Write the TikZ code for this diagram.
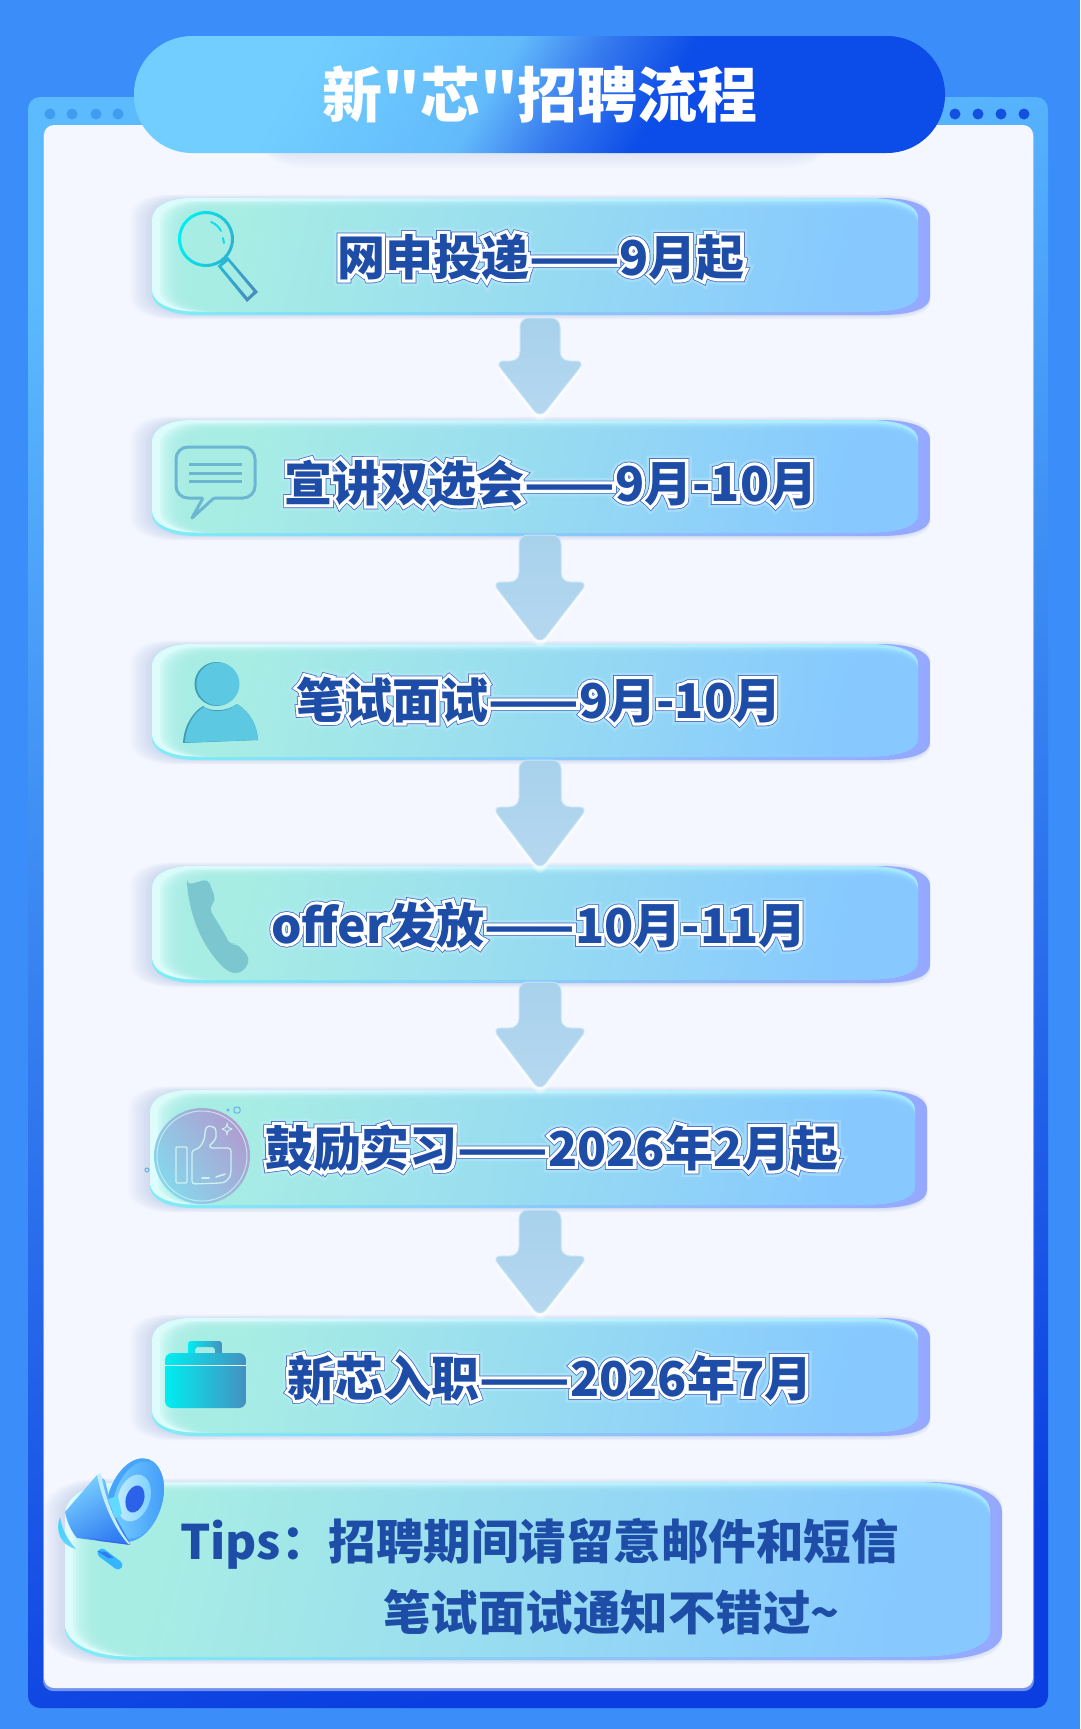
\documentclass[tikz,border=0pt]{standalone}
\usepackage{fontspec}
\usetikzlibrary{calc}
\newfontfamily\fblack{Noto Sans CJK SC Black}
\newfontfamily\fwhite[FakeBold=13]{Noto Sans CJK SC Black}
\newfontfamily\fedge[FakeBold=16]{Noto Sans CJK SC Black}
\newfontfamily\fglow[FakeBold=27]{Noto Sans CJK SC Black}
\newfontfamily\ftipb{Noto Sans CJK SC Black}
\definecolor{bgblue}{HTML}{3B8DFA}
\definecolor{panelc}{HTML}{F4F7FF}
\definecolor{ink}{HTML}{1E4DA8}
\definecolor{edgec}{HTML}{3F66BC}
\definecolor{glowc}{HTML}{C4ECFF}
\definecolor{shadowc}{HTML}{9DB4E0}
\definecolor{cyanA}{HTML}{00EEF0}
\definecolor{blueB}{HTML}{4590C0}
\definecolor{edgeL}{HTML}{7FEDF5}\definecolor{edgeM}{HTML}{82CCFF}\definecolor{edgeR}{HTML}{95A8FF}
\definecolor{lightL}{HTML}{DDFCFB}\definecolor{lightM}{HTML}{B4F0F4}\definecolor{lightR}{HTML}{A4E8FF}
\definecolor{faceL}{HTML}{A6EDE4}\definecolor{faceR}{HTML}{86C8FF}
\definecolor{arrowA}{HTML}{A8D1EC}\definecolor{arrowB}{HTML}{B6D8F0}\definecolor{arrowE}{HTML}{C6E3F5}
\definecolor{thumbc}{HTML}{CDF2F2}
\definecolor{frameA}{HTML}{5CBBFF}\definecolor{frameB}{HTML}{4CA6FB}\definecolor{frameC}{HTML}{0A3EE0}
\definecolor{bubc}{HTML}{6CB6D2}
\definecolor{persA}{HTML}{5CC8E2}\definecolor{persD}{HTML}{3E9DB8}
\definecolor{phonec}{HTML}{7CC6CF}
\definecolor{thumbA}{HTML}{86D8EC}\definecolor{thumbM}{HTML}{8CC8E4}\definecolor{thumbB}{HTML}{B09CD0}
\definecolor{megaB}{HTML}{46A4FB}\definecolor{megaE}{HTML}{7AD0FF}\definecolor{megaF}{HTML}{3F9AF8}\definecolor{megaW}{HTML}{C4ECFF}\definecolor{megaC}{HTML}{2C62EA}\definecolor{megaG}{HTML}{2F7CF2}\definecolor{megaH}{HTML}{3F5CEA}\definecolor{megaJ}{HTML}{3CD4FF}\definecolor{megaK}{HTML}{36B6FF}
\definecolor{dotL}{HTML}{3F9CEF}\definecolor{dotR}{HTML}{1450E0}
\definecolor{pillA}{HTML}{72CEFF}\definecolor{pillB}{HTML}{62BAFB}\definecolor{pillM}{HTML}{3578EE}\definecolor{pillC}{HTML}{0C4CE8}
\pgfdeclarehorizontalshading{pillshade}{100bp}{color(0bp)=(pillA); color(30bp)=(pillA); color(46bp)=(pillB); color(53bp)=(pillM); color(60bp)=(pillC); color(100bp)=(pillC)}
\newcommand\dashes{\scalebox{1.1}[1]{——}}
\newcommand\otext[1]{\mbox{%
  \begin{pgfscope}\pgfsetmiterlimit{2.5}%
  \begin{pgfscope}\pgfsetstrokeopacity{.35}\pgfsetfillopacity{.35}\rlap{\fglow\color{glowc}#1}\end{pgfscope}%
  \rlap{\fedge\color{edgec}#1}%
  \rlap{\fwhite\color{white}#1}%
  {\fblack\color{ink}#1}\end{pgfscope}}}
\newcommand\rowp[5]{(#1,#2+22*#5) .. controls (#1,#2+8*#5) and (#1+18*#5,#2) .. (#1+38*#5,#2) -- (#3-50*#5,#2) .. controls (#3-25*#5,#2) and (#3,#2+5*#5) .. (#3,#2+20*#5) -- (#3,#4-18*#5) .. controls (#3,#4-6*#5) and (#3-20*#5,#4) .. (#3-50*#5,#4) -- (#1+44*#5,#4) .. controls (#1+20*#5,#4) and (#1,#4-8*#5) .. (#1,#4-22*#5) -- cycle}
\newcommand\glassrow[5]{%
  \foreach \k in {1,...,9}{
    \pgfmathsetmacro\aa{#1-2.6*\k+2}\pgfmathsetmacro\bb{#2-0.6*\k+2}\pgfmathsetmacro\cc{#3+0.3*\k-2}\pgfmathsetmacro\dd{#4+0.6*\k-1}
    \fill[shadowc,fill opacity=.05] \rowp{\aa}{\bb}{\cc}{\dd}{#5};
  }
  \shade[left color=edgeL,middle color=edgeM,right color=edgeR] \rowp{#1}{#2}{#3}{#4}{#5};
  \pgfmathsetmacro\cc{#3-12}\pgfmathsetmacro\dd{#4-3.5}
  \shade[left color=lightL,middle color=lightM,right color=lightR] \rowp{#1}{#2}{\cc}{\dd}{#5};
  \foreach \k in {0,...,9}{
    \pgfmathsetmacro\aa{#1+8+2.8*\k}\pgfmathsetmacro\bb{#2+3+0.9*\k}
    \shade[left color=faceL,right color=faceR,shading angle=75,opacity=.24] \rowp{\aa}{\bb}{\cc}{\dd}{#5};
  }
}
\newcommand\blockarrow[6]{% cx, top, headtop, tip, half head, half shaft
  \foreach \k/\o in {7/.25,5/.35,3/.5}{
    \pgfmathsetmacro\hh{#3+\k}\pgfmathsetmacro\tt{#4+\k+4}
    \fill[white,opacity=\o,rounded corners=9] (#1-#5,\hh) -- (#1+#5,\hh) -- (#1,\tt) -- cycle;
  }
  \shade[top color=arrowA,bottom color=arrowB,draw=arrowE,line width=1pt,rounded corners=9]
    (#1-#5,#3) -- (#1-#6,#3) -- (#1-#6,#2) -- (#1+#6,#2) -- (#1+#6,#3) -- (#1+#5,#3) -- (#1,#4+4) -- cycle;
}
\begin{document}
\begin{tikzpicture}[x=1pt,y=-1pt,
  rowlabel/.style={anchor=base,inner sep=0pt,font=\fontsize{48}{52}\selectfont},
  tiplabel/.style={anchor=base west,inner sep=0pt,text=ink},
  thumbline/.style={draw=thumbc,line width=1.3pt,line join=round}]
\useasboundingbox (0,0) rectangle (1080,1729);
\fill[bgblue] (0,0) rectangle (1080,1729);
% frame
\shade[top color=frameA,middle color=frameB,bottom color=frameC,shading angle=16,rounded corners=12] (28,97) rectangle (1048,1708);
\foreach \x in {50,72,96,118} \fill[dotL] (\x,114) circle[radius=5.5];
\foreach \x in {955,978,1001,1024} \fill[dotR] (\x,114) circle[radius=5.5];
% panel
\fill[white!70!frameC,opacity=.6,rounded corners=10] (43,126) rectangle (1034,1691);
\fill[panelc,rounded corners=10] (44,125) rectangle (1033,1688);
% title pill
\foreach \k in {1,...,6}{
  \fill[shadowc,opacity=.035,rounded corners=58] (240+\k,60) rectangle (850-\k,153+2.5*\k);
}
\shade[shading=pillshade,shading angle=-30,rounded corners=58] (134,36) rectangle (945,153);
\node[anchor=base,inner sep=0pt,text=white,font=\fblack\fontsize{60}{64}\selectfont] (title) at (540,117) {新"芯"招聘流程};
% rows
\glassrow{152}{198}{930}{315}{1}
\glassrow{152}{420}{930}{536}{1}
\glassrow{152}{644}{930}{760}{1}
\glassrow{152}{866}{930}{983}{1}
\glassrow{150}{1090}{927}{1208}{1}
\glassrow{152}{1318}{930}{1436}{1}
\glassrow{65}{1482}{1002}{1660}{1.5}
% block arrows
\blockarrow{540}{318}{361}{414}{45}{20}
\blockarrow{540}{535}{582}{640}{48}{21}
\blockarrow{540}{760}{807}{866}{48}{21}
\blockarrow{540}{982}{1028}{1087}{48}{21}
\blockarrow{540}{1210}{1256}{1313}{48}{21}
% row labels
\node[rowlabel] (r1) at (541,275) {\otext{网申投递\dashes 9月起}};
\node[rowlabel] (r2) at (551,501) {\otext{宣讲双选会\dashes 9月-10月}};
\node[rowlabel] (r3) at (539,718) {\otext{笔试面试\dashes 9月-10月}};
\node[rowlabel] (r4) at (539,943) {\otext{offer发放\dashes 10月-11月}};
\node[rowlabel] (r5) at (552,1166) {\otext{鼓励实习\dashes 2026年2月起}};
\node[rowlabel] (r6) at (550,1396) {\otext{新芯入职\dashes 2026年7月}};
\node[tiplabel,font=\ftipb\fontsize{47.5}{52}\selectfont] (t1) at (180,1559) {Tips：招聘期间请留意邮件和短信};
\node[tiplabel,font=\ftipb\fontsize{47.5}{52}\selectfont] (t2) at (383,1630) {笔试面试通知不错过\char`\~};
% magnifier
\shade[left color=cyanA,right color=blueB,shading angle=70,even odd rule]
  (206,239) circle[radius=28] (206,239) circle[radius=25]
  (217.5,266) -- (228,257) -- (258,292) -- (247,302) -- cycle
  (221.5,266.5) -- (228,261) -- (253.5,291.5) -- (247.5,297.5) -- cycle;
\draw[cyanA!85!blueB,line width=2pt,line cap=round] (211,222) .. controls (216,224) and (219,227) .. (221,231);
\draw[cyanA!85!blueB,line width=2pt,line cap=round] (223,238) -- (224,243);
% chat bubble
\draw[bubc,line width=3pt,line join=round,rounded corners=12]
  (203,498) -- (176,498) -- (176,447) -- (255,447) -- (255,498) -- (214,498);
\draw[bubc,line width=3pt,line join=round] (203,498) -- (192,518) -- (214,498);
\foreach \y in {464,473,481} \draw[bubc,line width=3pt] (189,\y) -- (242,\y);
% person
\fill[persD] (216.5,684) circle[radius=22];
\fill[persA] (218,684) circle[radius=21.5];
\fill[persD] (183,743) .. controls (184,725) and (193,712) .. (203,706) .. controls (210,712) and (226,712) .. (237,704) .. controls (250,712) and (257,725) .. (258,740) -- cycle;
\fill[persA] (185,742.5) .. controls (186,725) and (195,712) .. (204,707) .. controls (211,713) and (226,713) .. (237,704) .. controls (250,712) and (257,725) .. (258,740) -- cycle;
% phone
\fill[phonec,rounded corners=5] (187,885) -- (208,879) -- (216,900) -- (209,908) .. controls (216,920) and (224,932) .. (230,945) -- (236,943) -- (250,958) -- (245,970) -- (235,974) -- (226,970) .. controls (206,950) and (192,925) .. cycle;
% thumb
\shade[left color=thumbA,middle color=thumbM,right color=thumbB,shading angle=125] (202,1156) circle[radius=48];
\draw[thumbline,line width=1pt,opacity=.8] (202,1156) circle[radius=45];
\draw[thumbline,rounded corners=1] (176,1147) rectangle (187,1183);
\draw[thumbline,rounded corners=3] (192,1184) -- (192,1150) .. controls (200,1149) and (205,1141) .. (205,1130) .. controls (208,1125) and (216,1126) .. (216,1134) .. controls (216,1140) and (210,1145) .. (209,1148) -- (231,1148) -- (231,1168) .. controls (231,1178) and (226,1182) .. (220,1183) -- cycle;
\draw[thumbc,line width=1.6pt,line cap=round] (202,1178) -- (209,1178) (216,1177) -- (225,1174);
\draw[thumbline,line width=1pt] (227,1123) .. controls (227,1127) and (229,1129) .. (232,1129) .. controls (229,1129) and (227,1131) .. (227,1135) .. controls (227,1131) and (225,1129) .. (222,1129) .. controls (225,1129) and (227,1127) .. cycle;
\draw[thumbA!80!blue,line width=1pt,rounded corners=2] (234,1107) rectangle (240,1113);
\fill[thumbA!80!blue] (228,1110) circle[radius=1.7];
\draw[thumbA!80!blue,line width=1pt] (147,1170) circle[radius=2];
% briefcase
\shade[left color=cyanA,right color=blueB,even odd rule,rounded corners=3] (188,1341) rectangle (222,1356) (195,1347) rectangle (215,1356);
\shade[left color=cyanA,right color=blueB,rounded corners=7] (165,1353) rectangle (246,1408);
\draw[white!90!cyanA,line width=.9pt] (165,1365) -- (246,1365);
% megaphone
\fill[megaB,rotate around={-18:(135,1500)}] (135,1500) ellipse[x radius=27,y radius=43];
\shade[left color=megaE,right color=megaF,rotate around={-18:(138,1500)}] (138,1500) ellipse[x radius=24,y radius=40];
\shade[left color=megaW,right color=megaE,rotate around={-18:(134,1498)}] (134,1498) ellipse[x radius=16,y radius=24];
\fill[megaC,rotate around={-18:(135,1499)}] (135,1499) ellipse[x radius=9,y radius=14];
\shade[top color=megaE,bottom color=megaG,shading angle=30] (97,1475) -- (65,1512) .. controls (68,1525) and (72,1532) .. (77,1538) -- (131,1545) -- (112,1510) -- (105,1480) -- cycle;
\fill[megaW] (97,1475) -- (101,1473) .. controls (105,1500) and (118,1530) .. (132,1546) -- (130,1546) .. controls (113,1528) and (102,1500) .. cycle;
\fill[megaH,opacity=.8] (85,1536) .. controls (105,1543) and (120,1540) .. (131,1545) -- (100,1541) -- cycle;
\fill[megaE!80!cyan] (108,1499) -- (118,1496) -- (122,1514) -- (115,1518) -- cycle;
\shade[left color=megaJ,right color=megaE] (60,1517) .. controls (55,1530) and (60,1545) .. (76,1549) .. controls (68,1540) and (62,1530) .. cycle;
\draw[megaK,line width=9pt,line cap=round] (102,1553) -- (118,1565);
\fill[megaG] (97,1551) -- (106,1552) -- (114,1558) -- (108,1558) -- cycle;
\end{tikzpicture}
\end{document}
